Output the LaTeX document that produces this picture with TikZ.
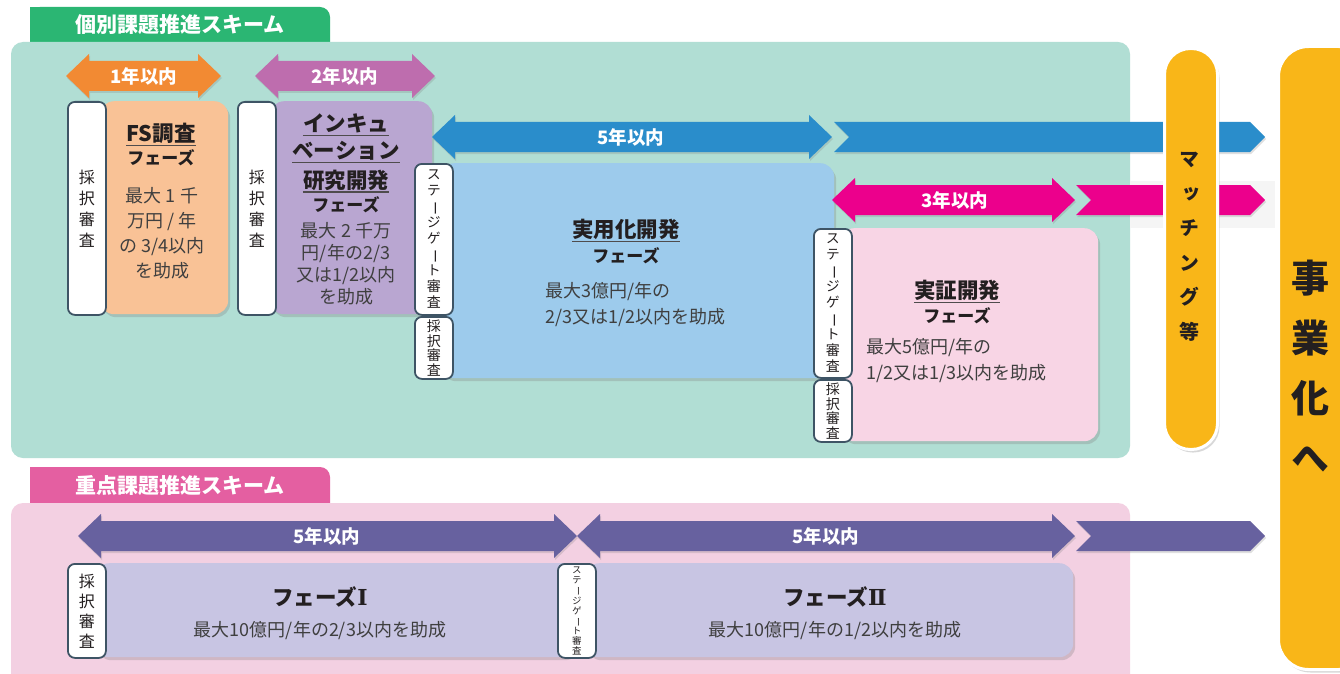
\documentclass[tikz,border=0pt]{standalone}
\usepackage{fontspec}
\usepackage{graphicx}
\setmainfont{Noto Sans CJK JP}
\newfontfamily\jpv[RawFeature=+vert]{Noto Sans CJK JP}
\newfontfamily\jph{Noto Sans CJK JP}
\newfontfamily\romfont{DejaVu Serif}
\usetikzlibrary{shadows,calc}

\newcommand\vlong{\rotatebox[origin=c]{-90}{\jph ー}}

\definecolor{tabgreen}{HTML}{2BB673}
\definecolor{panelteal}{HTML}{B1DED4}
\definecolor{tabpink}{HTML}{E45FA1}
\definecolor{panelpink}{HTML}{F3D0E2}
\definecolor{arrOrange}{HTML}{F28A33}
\definecolor{boxOrange}{HTML}{F9C296}
\definecolor{arrPurple}{HTML}{BE6DAE}
\definecolor{boxPurple}{HTML}{B9A6D1}
\definecolor{arrBlue}{HTML}{2A8DCB}
\definecolor{boxBlue}{HTML}{9DCBEC}
\definecolor{arrMag}{HTML}{EC008C}
\definecolor{boxPink}{HTML}{F8D5E5}
\definecolor{arrViolet}{HTML}{67619F}
\definecolor{boxLav}{HTML}{C8C5E3}
\definecolor{pillYellow}{HTML}{F9B618}
\definecolor{gateBorder}{HTML}{3E5465}
\definecolor{txtDark}{HTML}{231F20}
\definecolor{txtBody}{HTML}{3F3F3F}

\tikzset{
  phase/.style={rectangle, rounded corners=14pt, inner sep=0pt, anchor=north west,
    drop shadow={shadow xshift=2pt, shadow yshift=-3pt, opacity=0.3}},
  gate/.style={rectangle, rounded corners=7pt, draw=gateBorder, line width=1.8pt, fill=white,
    inner sep=0pt, anchor=north west, align=center, text=txtDark, minimum width=38pt},
  pill/.style={rectangle, rounded corners=26pt, fill=pillYellow, draw=white, line width=3pt,
    anchor=north west, inner sep=0pt, drop shadow={shadow xshift=2pt, shadow yshift=-3pt, opacity=0.3}},
  arrshadow/.style={drop shadow={shadow xshift=1pt, shadow yshift=-2pt, opacity=0.25}},
  tabtext/.style={font=\bfseries\fontsize{21}{24}\selectfont, text=white, inner sep=0pt},
  arrlabel/.style={font=\bfseries\fontsize{18.5}{20}\selectfont, text=white, inner sep=0pt},
  ttl/.style={font=\bfseries\fontsize{21.5}{24}\selectfont, text=txtDark, inner sep=0pt},
  sub/.style={font=\bfseries\fontsize{17}{20}\selectfont, text=txtDark, inner sep=0pt},
  ulline/.style={draw=txtDark!80, line width=1.2pt},
}

\newcommand\dblArrow[4]{\fill[#4, arrshadow] (#1,#3) -- (#1+23,#3-22) -- (#1+23,#3-15) -- (#2-23,#3-15) -- (#2-23,#3-22) -- (#2,#3) -- (#2-23,#3+22) -- (#2-23,#3+15) -- (#1+23,#3+15) -- (#1+23,#3+22) -- cycle;}
\newcommand\contArrow[4]{\fill[#4, arrshadow] (#1,#3-15) -- (#2-15,#3-15) -- (#2,#3) -- (#2-15,#3+15) -- (#1,#3+15) -- (#1+15,#3) -- cycle;}

\begin{document}
\begin{tikzpicture}[x=1pt,y=-1pt]
\useasboundingbox (0,0) rectangle (1340,674);
\fill[white] (0,0) rectangle (1340,674);

% panels and tabs
\fill[tabgreen, rounded corners=10pt] (30,7) rectangle (330,60);
\fill[tabgreen] (30,7) rectangle (60,30);
\fill[panelteal, rounded corners=12pt] (11,42) rectangle (1130,458);
\node[tabtext] (tab1) at (180,25) {個別課題推進スキーム};

\fill[tabpink, rounded corners=10pt] (30,467) rectangle (330,520);
\fill[tabpink] (30,467) rectangle (60,490);
\fill[panelpink, rounded corners=12pt] (11,503) rectangle (1130,700);
\node[tabtext] (tab2) at (180,486) {重点課題推進スキーム};

% faint band behind magenta continuation
\fill[black!4] (1130,181) rectangle (1275,228);

% phase boxes
\node[phase, fill=boxOrange, minimum width=128pt, minimum height=213pt] (fsBox) at (100,101) {};
\node[phase, fill=boxPurple, minimum width=162pt, minimum height=213pt] (incBox) at (270,101) {};
\node[phase, fill=boxBlue, minimum width=394pt, minimum height=215pt] (jitBox) at (440,163) {};
\node[phase, fill=boxPink, minimum width=258pt, minimum height=213pt] (shoBox) at (840,228) {};
\node[phase, fill=boxLav, minimum width=482pt, minimum height=94pt] (p1Box) at (95,563) {};
\node[phase, fill=boxLav, minimum width=488pt, minimum height=94pt] (p2Box) at (585,563) {};

% arrows
\dblArrow{66}{221}{76}{arrOrange}
\dblArrow{255}{435}{76}{arrPurple}
\contArrow{834}{1265}{137}{arrBlue}
\dblArrow{432}{832}{137}{arrBlue}
\contArrow{1076}{1265}{200}{arrMag}
\dblArrow{832}{1075}{200}{arrMag}
\dblArrow{78}{577}{536}{arrViolet}
\dblArrow{577}{1075}{536}{arrViolet}
\contArrow{1076}{1265}{536}{arrViolet}

\node[arrlabel] (lab1) at (144,76) {1年以内};
\node[arrlabel] (lab2) at (345,76) {2年以内};
\node[arrlabel] (lab3) at (631,137) {5年以内};
\node[arrlabel] (lab4) at (955,200) {3年以内};
\node[arrlabel] (lab5) at (327,536) {5年以内};
\node[arrlabel] (lab6) at (826,536) {5年以内};

% gates
\node[gate, minimum height=213pt, font=\jpv\fontsize{16}{21}\selectfont] (g1) at (67,101) {採\\択\\審\\査};
\node[gate, minimum height=213pt, font=\jpv\fontsize{16}{21}\selectfont] (g2) at (237,101) {採\\択\\審\\査};
\node[gate, minimum height=151pt, font=\jpv\fontsize{14}{16}\selectfont] (s1) at (414,163) {ス\\テ\\\vlong\\ジ\\ゲ\\\vlong\\ト\\審\\査};
\node[gate, minimum height=62pt, font=\jpv\fontsize{14}{14.5}\selectfont] (g3) at (414,316) {採\\択\\審\\査};
\node[gate, minimum height=149pt, font=\jpv\fontsize{14}{16}\selectfont] (s2) at (813,228) {ス\\テ\\\vlong\\ジ\\ゲ\\\vlong\\ト\\審\\査};
\node[gate, minimum height=62pt, font=\jpv\fontsize{14}{14.5}\selectfont] (g4) at (813,379) {採\\択\\審\\査};
\node[gate, minimum height=94pt, font=\jpv\fontsize{16}{20}\selectfont] (g5) at (67,563) {採\\択\\審\\査};
\node[gate, minimum height=94pt, font=\jpv\fontsize{9.5}{10}\selectfont] (s3) at (557,563) {ス\\テ\\\vlong\\ジ\\ゲ\\\vlong\\ト\\審\\査};

% pills
\node[pill, minimum width=53pt, minimum height=401pt] (match) at (1163,47) {};
\node[pill, minimum width=90pt, minimum height=623pt, rounded corners=30pt] (jig) at (1277,45) {};
\node[font=\jpv\bfseries\fontsize{20}{34.5}\selectfont, align=center, text=txtDark, inner sep=0pt] (matchT) at (1189.5,247) {マ\\ッ\\チ\\ン\\グ\\等};
\node[font=\jpv\bfseries\fontsize{38}{60}\selectfont, align=center, text=txtDark, inner sep=0pt] (jigT) at (1310,366) {事\\業\\化\\へ};

% FS
\node[ttl] (fsT) at (161,133) {FS調査};
\draw[ulline] ($(fsT.base west)+(0,4)$) -- ($(fsT.base east)+(0,4)$);
\node[sub] (fsF) at (161,158) {フェーズ};
\node[align=center, text=txtBody, inner sep=0pt, font=\fontsize{18}{25}\selectfont] (fsB) at (162,233) {最大 1 千\\万円 / 年\\の 3/4以内\\を助成};

% incubation
\node[ttl] (incT1) at (346,123) {インキュ};
\node[ttl] (incT2) at (346,151) {ベーション};
\node[ttl] (incT3) at (346,180) {研究開発};
\draw[ulline] ($(incT1.base west)+(0,4)$) -- ($(incT1.base east)+(0,4)$);
\draw[ulline] ($(incT2.base west)+(0,4)$) -- ($(incT2.base east)+(0,4)$);
\draw[ulline] ($(incT3.base west)+(0,4)$) -- ($(incT3.base east)+(0,4)$);
\node[sub] (incF) at (346,205) {フェーズ};
\node[align=center, text=txtBody, inner sep=0pt, font=\fontsize{18}{22}\selectfont] (incB) at (346,264) {最大 2 千万\\円/年の2/3\\又は1/2以内\\を助成};

% jitsuyouka
\node[ttl] (jitT) at (626,229) {実用化開発};
\draw[ulline] ($(jitT.base west)+(0,4)$) -- ($(jitT.base east)+(0,4)$);
\node[sub] (jitF) at (626,256) {フェーズ};
\node[align=left, anchor=west, text=txtBody, inner sep=0pt, font=\fontsize{18}{26}\selectfont] (jitB) at (545,305) {最大3億円/年の\\2/3又は1/2以内を助成};

% jisshou
\node[ttl] (shoT) at (957,290) {実証開発};
\draw[ulline] ($(shoT.base west)+(0,4)$) -- ($(shoT.base east)+(0,4)$);
\node[sub] (shoF) at (957,316) {フェーズ};
\node[align=left, anchor=west, text=txtBody, inner sep=0pt, font=\fontsize{18}{26}\selectfont] (shoB) at (866,361) {最大5億円/年の\\1/2又は1/3以内を助成};

% phase I / II
\node[ttl] (p1T) at (320,597) {フェーズ{\romfont\fontsize{22}{24}\selectfont Ⅰ}};
\node[text=txtBody, inner sep=0pt, font=\fontsize{18}{22}\selectfont] (p1B) at (320,631) {最大10億円/年の2/3以内を助成};
\node[ttl] (p2T) at (835,597) {フェーズ{\romfont\fontsize{22}{24}\selectfont Ⅱ}};
\node[text=txtBody, inner sep=0pt, font=\fontsize{18}{22}\selectfont] (p2B) at (835,631) {最大10億円/年の1/2以内を助成};

\end{tikzpicture}
\end{document}
